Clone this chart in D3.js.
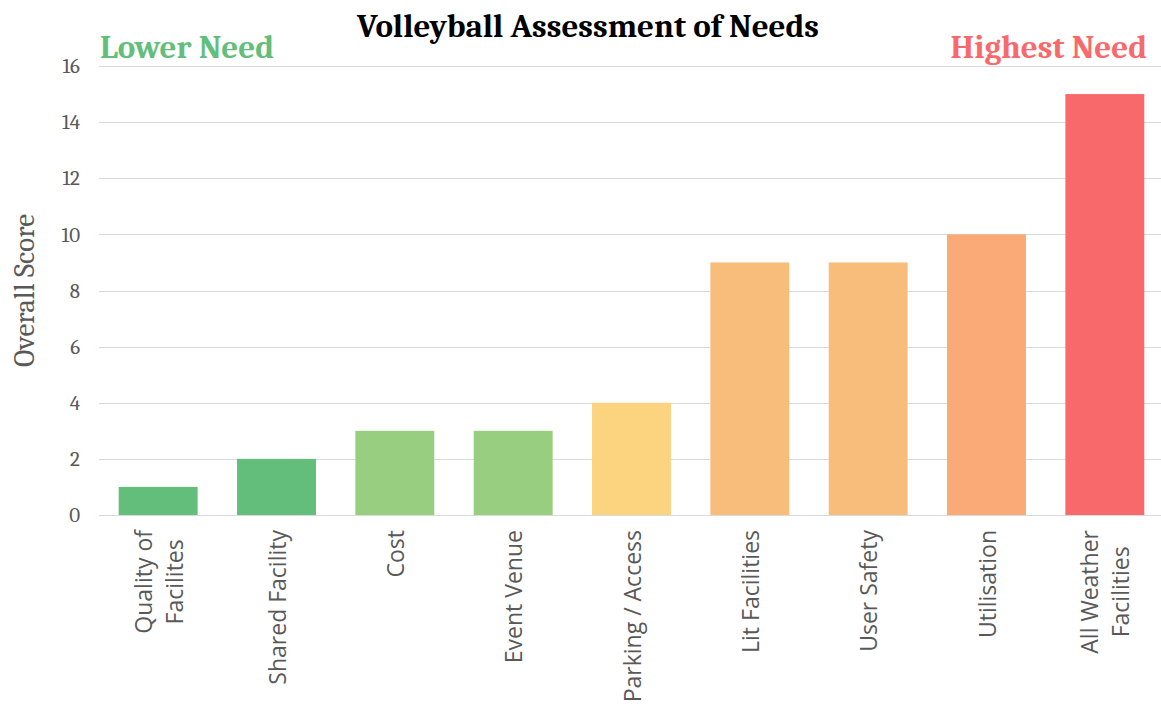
<!DOCTYPE html>
<html>
<head>
<meta charset="utf-8">
<script src="https://cdn.jsdelivr.net/npm/d3@7"></script>
<style>
  html, body { margin: 0; padding: 0; background: #fff; }
  svg { display: block; }
</style>
</head>
<body>
<svg id="chart" width="1161" height="704"></svg>
<script>
// Needs assessment categories, ordered from lowest to highest need
const categories = [
  ["Quality of", "Facilites"],
  ["Shared Facility"],
  ["Cost"],
  ["Event Venue"],
  ["Parking / Access"],
  ["Lit Facilities"],
  ["User Safety"],
  ["Utilisation"],
  ["All Weather", "Facilities"]
];
const scores = [1, 2, 3, 3, 4, 9, 9, 10, 15];
const barColors = ["#63BE7B", "#63BE7B", "#98CE7F", "#98CE7F", "#FCD480", "#F9BD7B", "#F9BD7B", "#F9AA76", "#F8696B"];
const yTicks = [0, 2, 4, 6, 8, 10, 12, 14, 16];

const W = 1161, H = 704;
const margin = { left: 99, right: -3, top: 66, bottom: 189 };
const svg = d3.select("#chart");

const serif = "Cambria, Caladea, 'Liberation Serif', serif";
const sans = "'Open Sans', 'Noto Sans', sans-serif";

const x = d3.scaleBand()
  .domain(d3.range(categories.length))
  .range([margin.left, W - margin.right])
  .paddingInner(0.333)
  .paddingOuter(0.1665);

const y = d3.scaleLinear()
  .domain([0, 16])
  .range([H - margin.bottom, margin.top]);

// Horizontal gridlines
svg.append("g")
  .selectAll("line")
  .data(yTicks)
  .join("line")
  .attr("x1", margin.left)
  .attr("x2", W)
  .attr("y1", d => Math.round(y(d)) + 0.5)
  .attr("y2", d => Math.round(y(d)) + 0.5)
  .attr("stroke", "#d9d9d9")
  .attr("stroke-width", 1);

// Y axis tick labels
const yAxis = d3.axisLeft(y).tickValues(yTicks).tickSize(0).tickPadding(0);
const gy = svg.append("g")
  .attr("transform", `translate(${margin.left - 19},0)`)
  .call(yAxis);
gy.select(".domain").remove();
gy.selectAll("text")
  .attr("font-family", serif)
  .attr("font-size", 21)
  .attr("fill", "#595959");

// Bars
svg.append("g")
  .selectAll("rect")
  .data(scores)
  .join("rect")
  .attr("x", (d, i) => x(i))
  .attr("width", x.bandwidth())
  .attr("y", d => y(d))
  .attr("height", d => y(0) - y(d))
  .attr("fill", (d, i) => barColors[i]);

// Category labels, rotated to read bottom-to-top
const lineH = 31;
const xl = svg.append("g");
categories.forEach((lines, i) => {
  const cx = x(i) + x.bandwidth() / 2;
  const g = xl.append("g");
  const texts = lines.map((t, k) => g.append("text")
    .attr("font-family", sans)
    .attr("font-size", 23)
    .attr("fill", "#595959")
    .attr("text-anchor", "middle")
    .text(t));
  const maxLen = d3.max(texts, t => t.node().getComputedTextLength());
  const topY = 530;
  const midY = topY + maxLen / 2;
  texts.forEach((t, k) => {
    const off = (k - (lines.length - 1) / 2) * lineH;
    const px = cx + off + 9;
    t.attr("transform", `translate(${px},${midY}) rotate(-90)`);
  });
});

// Y axis title
svg.append("text")
  .attr("transform", `translate(34,${(y(0) + y(16)) / 2}) rotate(-90)`)
  .attr("text-anchor", "middle")
  .attr("font-family", serif)
  .attr("font-size", 29)
  .attr("fill", "#595959")
  .text("Overall Score");

// Chart title
svg.append("text")
  .attr("x", 588)
  .attr("y", 37)
  .attr("text-anchor", "middle")
  .attr("font-family", serif)
  .attr("font-weight", "bold")
  .attr("font-size", 33)
  .attr("fill", "#000")
  .text("Volleyball Assessment of Needs");

// Need-level annotations
svg.append("text")
  .attr("x", 100)
  .attr("y", 58)
  .attr("font-family", serif)
  .attr("font-weight", "bold")
  .attr("font-size", 33)
  .attr("fill", "#63BE7B")
  .text("Lower Need");

svg.append("text")
  .attr("x", 1147)
  .attr("y", 58)
  .attr("text-anchor", "end")
  .attr("font-family", serif)
  .attr("font-weight", "bold")
  .attr("font-size", 33)
  .attr("fill", "#F8696B")
  .text("Highest Need");
</script>
</body>
</html>
